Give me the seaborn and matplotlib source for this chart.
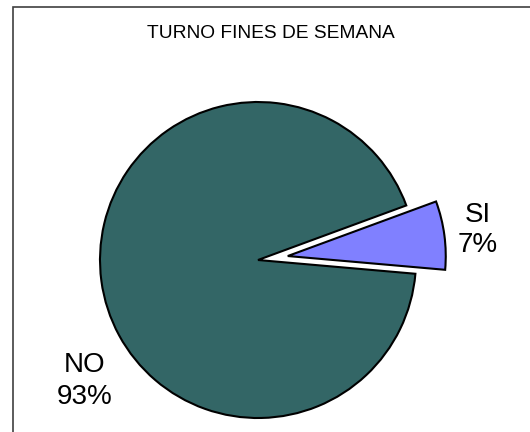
import matplotlib
matplotlib.use("Agg")
import matplotlib.pyplot as plt
import seaborn as sns
from matplotlib.patches import Rectangle

# ---- data ----
categories = ["SI", "NO"]
values = [7, 93]
pct_labels = ["7%", "93%"]
colors = ["#8080FF", "#336666"]
title = "TURNO FINES DE SEMANA"

sns.set_theme(style="white")
plt.rcParams["font.family"] = ["Liberation Sans", "DejaVu Sans"]

W, H = 530, 432
fig = plt.figure(figsize=(W / 100, H / 100), dpi=100)
fig.patch.set_facecolor("white")

# pie geometry in pixels
cx, cy, R = 258, 260, 158
L = 1.6  # data half-range
side = 2 * L * R
ax = fig.add_axes([(cx - side / 2) / W, ((H - cy) - side / 2) / H, side / W, side / H])

ax.pie(values, explode=[0.19, 0], startangle=-5, colors=colors,
       wedgeprops=dict(edgecolor="black", linewidth=1.5), radius=1)
ax.set_xlim(-L, L)
ax.set_ylim(-L, L)
ax.set_aspect("equal")
ax.axis("off")

# labels (pixel positions converted to data)
def px2data(px, py):
    return (px - cx) / R, (cy - py) / R

lab_pos = {"SI": (478, 230), "NO": (85, 381)}
for cat, pct in zip(categories, pct_labels):
    x, y = px2data(*lab_pos[cat])
    ax.text(x, y, f"{cat}\n{pct}", ha="center", va="center", fontsize=20,
            color="black", linespacing=1.25)

# title
fig.text(271 / W, 1 - 33 / H, title, ha="center", va="center", fontsize=13.8, color="black")

# border
fig.patches.append(Rectangle((12.5 / W, -0.1), 1.2, 1 - 7.5 / H + 0.1,
                             transform=fig.transFigure, fill=False,
                             edgecolor="#404040", linewidth=1.2))

fig.savefig("out.png", dpi=100)
